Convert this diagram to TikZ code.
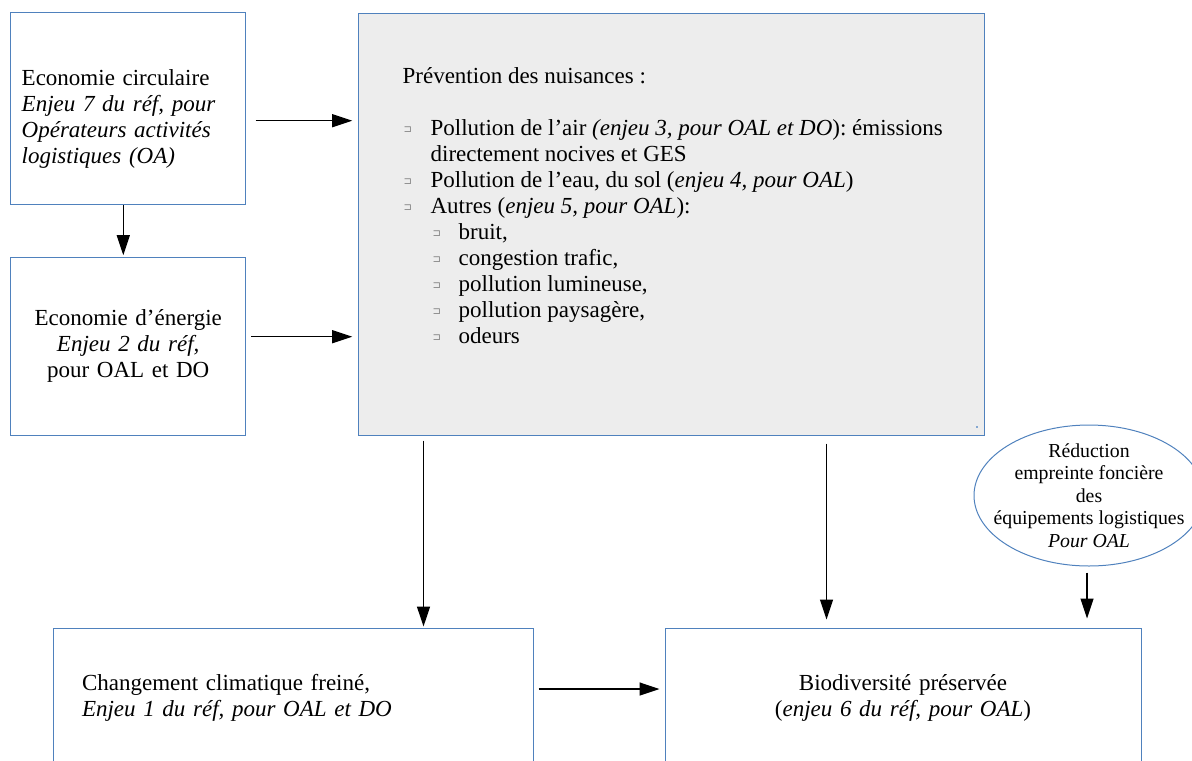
\documentclass[tikz,border=0pt]{standalone}
\usepackage{fontspec}
\setmainfont{Liberation Serif}
\newfontfamily\dejavu{DejaVu Sans}
\usetikzlibrary{arrows.meta,shapes.geometric}

\definecolor{bordbleu}{RGB}{79,129,189}
\definecolor{fondgris}{RGB}{237,237,237}

% petites puces grises du texte d'origine
\newcommand{\carre}{\raisebox{1.2pt}{\color{gray}\dejavu\fontsize{5}{5}\selectfont ⊐}}
\newcommand{\puce}{\makebox[14pt][l]{\hspace{0.5pt}\carre}}
\newcommand{\souspuce}{\hspace*{15pt}\makebox[13pt][l]{\carre}}

\tikzset{
  boite/.style={rectangle, draw=bordbleu, line width=0.5pt, inner ysep=0pt,
    font=\fontsize{11.5}{13}\selectfont},
  fleche/.style={-{Triangle[length=10pt,width=6.5pt]}, line width=0.65pt},
}

\begin{document}
\begin{tikzpicture}[x=0.5pt, y=-0.5pt]
  \clip (0,0) rectangle (1192,760);

  % colonne de gauche
  \node [boite, minimum width=117.5pt, minimum height=96pt, text width=106.5pt,
    inner xsep=5.5pt, align=left] (circ) at (128.2,108.7)
    {\rule{0pt}{18.7pt}Economie circulaire\\ \textit{Enjeu 7 du réf, pour}\\
     \textit{Opérateurs activités}\\ \textit{logistiques (OA)}};
  \node [boite, minimum width=117.5pt, minimum height=89pt, text width=106.5pt,
    inner xsep=5.5pt, align=center] (ener) at (128.2,346)
    {Economie d’énergie\\ \textit{Enjeu 2 du réf,}\\ pour OAL et DO};

  % grand cadre gris
  \node [boite, fill=fondgris, minimum width=313pt, minimum height=211pt] (prev) at (671,224) {};
  \node [anchor=north west, inner sep=0pt, align=left, font=\fontsize{11.5}{13}\selectfont] (nuis)
    at ([xshift=22.35pt,yshift=-27.1pt]prev.north west)
    {Prévention des nuisances :\\[13pt]
     \puce Pollution de l’air \textit{(enjeu 3, pour OAL et DO}): émissions\\
     \hspace*{14pt}directement nocives et GES\\
     \puce Pollution de l’eau, du sol (\textit{enjeu 4, pour OAL})\\
     \puce Autres (\textit{enjeu 5, pour OAL}):\\
     \souspuce bruit,\\
     \souspuce congestion trafic,\\
     \souspuce pollution lumineuse,\\
     \souspuce pollution paysagère,\\
     \souspuce odeurs};
  \fill [bordbleu!70] ([xshift=-4.5pt,yshift=4pt]prev.south east) rectangle +(1pt,1pt);

  % ellipse a droite
  \node [ellipse, draw=bordbleu, line width=0.5pt, inner sep=0pt, minimum width=115pt,
    minimum height=70.5pt] (fonc) at (1089,495.5) {};
  \node [align=center, inner sep=0pt, font=\fontsize{9.9}{11.25}\selectfont] (tfonc) at (fonc.center)
    {Réduction\\ empreinte foncière\\ des\\ équipements logistiques\\ \textit{Pour OAL}};

  % rangée du bas
  \node [boite, minimum width=240pt, minimum height=70pt, text width=211pt,
    inner xsep=14.5pt, align=left] (clim) at (293,698)
    {Changement climatique freiné,\\ \textit{Enjeu 1 du réf, pour OAL et DO}};
  \node [boite, minimum width=238pt, minimum height=70pt, text width=209pt,
    inner xsep=14.5pt, align=center] (bio) at (903,698)
    {Biodiversité préservée\\ (\textit{enjeu 6 du réf, pour OAL})};

  % fleches
  \draw [fleche, shorten <=4.65pt, shorten >=2.65pt] ([yshift=-6pt]circ.east) -- ([yshift=-6pt]circ.east -| prev.west);
  \draw [fleche, shorten <=2.5pt, shorten >=2.65pt] ([yshift=4.65pt]ener.east) -- ([yshift=4.65pt]ener.east -| prev.west);
  \draw [fleche, shorten >=0.65pt] ([xshift=-2.45pt]circ.south) -- ([xshift=-2.45pt]circ.south |- ener.north);
  \draw [fleche, shorten <=2.5pt, shorten >=0.5pt] ([xshift=33pt]prev.south west) -- ([xshift=33pt]prev.south west |- clim.north);
  \draw [fleche, shorten <=4pt, shorten >=4pt] ([xshift=-79pt]prev.south east) -- ([xshift=-79pt]prev.south east |- bio.north);
  \draw [fleche, shorten <=3pt, shorten >=4.5pt] ([xshift=-1pt]fonc.south) -- ([xshift=-1pt]fonc.south |- bio.north);
  \draw [fleche, shorten <=2.5pt, shorten >=2.5pt] ([yshift=4.5pt]clim.east) -- ([yshift=4.5pt]clim.east -| bio.west);
\end{tikzpicture}
\end{document}
